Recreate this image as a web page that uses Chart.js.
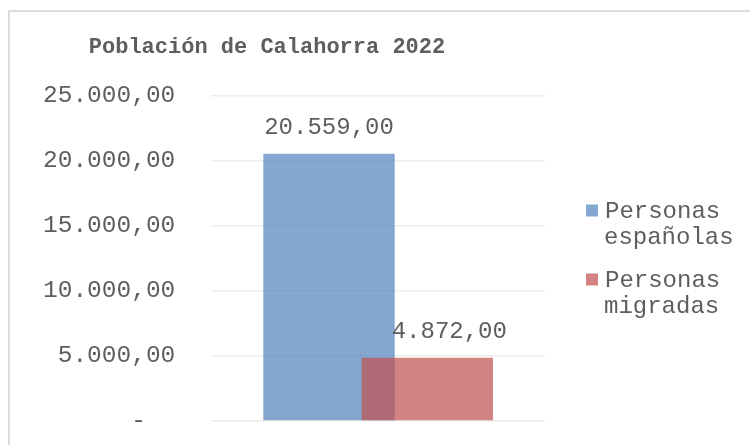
<!DOCTYPE html>
<html>
<head>
<meta charset="utf-8">
<script src="https://cdn.jsdelivr.net/npm/chart.js@4/dist/chart.umd.min.js"></script>
<style>
  html, body { margin: 0; padding: 0; background: #fff; }
  #wrap { position: relative; width: 750px; height: 445px; overflow: hidden; }
  #frame { position: absolute; left: 8px; top: 10px; width: 800px; height: 500px;
           border: 2px solid #DCDCDC; box-sizing: border-box; }
  #chart { position: absolute; left: 0; top: 0; }
</style>
</head>
<body>
<div id="wrap">
  <div id="frame"></div>
  <canvas id="chart" width="750" height="445"></canvas>
</div>
<script>
// data
var chartTitle = 'Población de Calahorra 2022';
var categories = ['2022'];
var seriesNames = ['Personas españolas', 'Personas migradas'];
var espanolas = [20559];
var migradas = [4872];
var yTicks = [0, 5000, 10000, 15000, 20000, 25000];

var textColor = '#5E5E5E';
var mono = "'Liberation Mono', 'Courier New', monospace";

// 20559 -> "20.559,00"
function fmt(v) {
    var s = Math.round(v).toString().replace(/\B(?=(\d{3})+(?!\d))/g, '.');
    return s + ',00';
}

// draw datasets first-to-last so the red bar sits over the blue one
var drawInOrder = {
    id: 'drawInOrder',
    beforeDatasetsDraw: function(chart) {
        var ctx = chart.ctx;
        var area = chart.chartArea;
        ctx.save();
        ctx.beginPath();
        ctx.rect(area.left, area.top - 2, area.right - area.left, area.bottom - area.top + 4);
        ctx.clip();
        chart.getSortedVisibleDatasetMetas().forEach(function(meta) {
            meta.controller.draw();
        });
        ctx.restore();
        return false;
    }
};

// title, value labels and two-line legend
var extras = {
    id: 'extras',
    afterDraw: function(chart) {
        var ctx = chart.ctx;
        var area = chart.chartArea;
        ctx.save();
        ctx.fillStyle = textColor;

        ctx.font = 'bold 22px ' + mono;
        ctx.textAlign = 'center';
        ctx.textBaseline = 'middle';
        ctx.fillText(chartTitle, 267, 47);

        // value labels
        var labelShift = [0, 22];
        ctx.font = '24px ' + mono;
        chart.data.datasets.forEach(function(ds, i) {
            var meta = chart.getDatasetMeta(i);
            meta.data.forEach(function(bar, j) {
                ctx.fillText(fmt(ds.data[j]), bar.x + labelShift[i], bar.y - 26);
            });
        });

        // legend
        var lx = area.right + 41;
        var top = (area.top + area.bottom) / 2 - 48;
        ctx.textAlign = 'left';
        chart.data.datasets.forEach(function(ds, i) {
            var y = top + i * 69;
            ctx.fillStyle = ds.backgroundColor;
            ctx.fillRect(lx, y - 6, 12, 12);
            ctx.fillStyle = textColor;
            var words = ds.label.split(' ');
            ctx.fillText(words[0], lx + 19, y + 1);
            ctx.fillText(words.slice(1).join(' '), lx + 18, y + 27);
        });
        ctx.restore();
    }
};

new Chart(document.getElementById('chart'), {
    type: 'bar',
    data: {
        labels: categories,
        datasets: [
            {
                label: seriesNames[0],
                data: espanolas,
                backgroundColor: 'rgba(79, 129, 189, 0.7)',
                categoryPercentage: 0.589,
                barPercentage: 1.337
            },
            {
                label: seriesNames[1],
                data: migradas,
                backgroundColor: 'rgba(192, 80, 77, 0.7)',
                categoryPercentage: 0.589,
                barPercentage: 1.337
            }
        ]
    },
    options: {
        responsive: false,
        animation: false,
        layout: { padding: { top: 96, left: 43, right: 205, bottom: 24 } },
        plugins: {
            legend: { display: false },
            title: { display: false },
            tooltip: { enabled: false }
        },
        scales: {
            x: { display: false },
            y: {
                min: 0,
                max: 25000,
                afterBuildTicks: function(axis) {
                    axis.ticks = yTicks.map(function(v) { return { value: v }; });
                },
                border: { display: false },
                // invisible tick marks make the gap between labels and plot
                grid: { color: '#EDEDED', lineWidth: 1.5, drawTicks: true, tickLength: 36, tickColor: 'rgba(0,0,0,0)' },
                ticks: {
                    padding: 0,
                    color: textColor,
                    font: { family: mono, size: 24.5 },
                    callback: function(v) { return v === 0 ? '-  ' : fmt(v); }
                }
            }
        }
    },
    plugins: [drawInOrder, extras]
});
</script>
</body>
</html>
